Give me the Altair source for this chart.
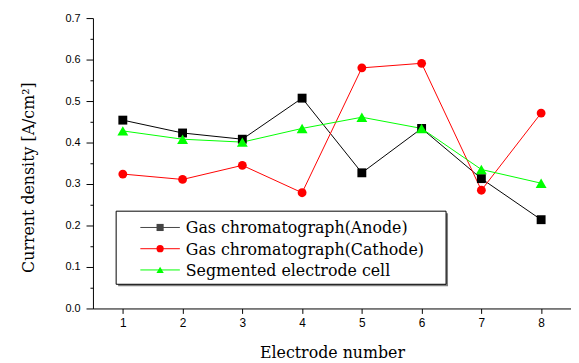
import altair as alt
import pandas as pd

# ---- data ----
electrodes = [1, 2, 3, 4, 5, 6, 7, 8]
anode = [0.454, 0.423, 0.408, 0.507, 0.327, 0.434, 0.313, 0.214]
cathode = [0.324, 0.311, 0.345, 0.279, 0.580, 0.591, 0.285, 0.471]
segmented = [0.428, 0.408, 0.401, 0.434, 0.461, 0.434, 0.335, 0.302]

series_names = ["Gas chromatograph(Anode)", "Gas chromatograph(Cathode)", "Segmented electrode cell"]
series_colors = ["#000000", "#ff0000", "#00ff00"]
legend_line_colors = ["#444444", "#ff0000", "#00ff00"]
marker_shapes = ["square", "circle", "triangle-up"]
marker_sizes = [81, 80, 121]
legend_marker_sizes = [52, 55, 80]
y_tick_values = [0.0, 0.05, 0.1, 0.15, 0.2, 0.25, 0.3, 0.35, 0.4, 0.45, 0.5, 0.55, 0.6, 0.65, 0.7]

rows = []
for name, vals in zip(series_names, [anode, cathode, segmented]):
    for e, v in zip(electrodes, vals):
        rows.append({"electrode": e, "value": v, "series": name})
df = pd.DataFrame(rows)
legend_df = pd.DataFrame({"series": series_names})

SERIF = "DejaVu Serif"
SANS = "Liberation Sans"

is_major = "abs(datum.value*10 - round(datum.value*10)) < 0.001"

x_enc = alt.X(
    "electrode:Q",
    scale=alt.Scale(domain=[0.5, 8.5], nice=False, zero=False),
    axis=alt.Axis(
        values=electrodes, format="d", title="Electrode number",
        tickSize=5, labelPadding=4, labelFontSize=12,
        titleY=50, titleBaseline="alphabetic",
    ),
)
y_enc = alt.Y(
    "value:Q",
    scale=alt.Scale(domain=[0, 0.7], nice=False, zero=True),
    axis=alt.Axis(
        values=y_tick_values,
        labelExpr=f"{is_major} ? format(datum.value, '.1f') : ''",
        tickSize={"condition": {"test": is_major, "value": 7}, "value": 3},
        labelPadding=6, labelFontSize=11,
        title="Current density [A/cm²]",
        titleX=-60, titleY=161, titleAngle=270, titleBaseline="alphabetic", titleAlign="center",
    ),
)

data_layers = []
for name, color in zip(series_names, series_colors):
    data_layers.append(
        alt.Chart(df)
        .transform_filter(alt.datum.series == name)
        .mark_line(strokeWidth=1, color=color)
        .encode(x=x_enc, y=y_enc)
    )
for name, color, shape, size in zip(series_names, series_colors, marker_shapes, marker_sizes):
    data_layers.append(
        alt.Chart(df)
        .transform_filter(alt.datum.series == name)
        .mark_point(filled=True, opacity=1, shape=shape, size=size, color=color)
        .encode(x=x_enc, y=y_enc)
    )
main = alt.layer(*data_layers)

# ---- legend (box with shadow, line+marker samples, serif labels) ----
leg_y = alt.Y(
    "series:N",
    scale=alt.Scale(type="point", domain=series_names, range=[212, 255], padding=0),
    axis=None,
)
leg_color = alt.Color("series:N", scale=alt.Scale(domain=series_names, range=series_colors), legend=None)
leg_line_color = alt.Color("series:N", scale=alt.Scale(domain=series_names, range=legend_line_colors), legend=None)
leg_shape = alt.Shape("series:N", scale=alt.Scale(domain=series_names, range=marker_shapes), legend=None)
leg_size = alt.Size("series:N", scale=alt.Scale(domain=series_names, range=legend_marker_sizes), legend=None)

one_row = alt.datum.series == series_names[0]
shadow = alt.Chart(legend_df).transform_filter(one_row).mark_rect(fill="#808080").encode(
    x=alt.value(25.5), x2=alt.value(359.5), y=alt.value(197.5), y2=alt.value(271.5)
)
box = alt.Chart(legend_df).transform_filter(one_row).mark_rect(fill="#ffffff", stroke="#000000", strokeWidth=1).encode(
    x=alt.value(23.5), x2=alt.value(357.5), y=alt.value(195.5), y2=alt.value(269.5)
)
leg_lines = alt.Chart(legend_df).mark_rule(strokeWidth=1).encode(
    x=alt.value(48), x2=alt.value(88), y=leg_y, color=leg_line_color
)
leg_marks = alt.Chart(legend_df).mark_point(filled=True, opacity=1).encode(
    x=alt.value(68), y=leg_y, color=leg_color, shape=leg_shape, size=leg_size
)
leg_text = alt.Chart(legend_df).mark_text(
    align="left", baseline="middle", font=SERIF, fontSize=16, color="#000000", dy=1
).encode(x=alt.value(94), y=leg_y, text="series:N")

legend = alt.layer(shadow, box, leg_lines, leg_marks, leg_text)

chart = (
    alt.layer(main, legend)
    .resolve_scale(y="independent", color="independent", shape="independent", size="independent")
    .properties(
        width=484, height=294,
        padding={"left": 86, "top": 8, "right": 0, "bottom": 53},
        autosize=alt.AutoSizeParams(type="none"),
        background="#ffffff",
    )
    .configure_view(stroke=None)
    .configure_axis(
        grid=False, domainColor="#000000", domainWidth=1, tickColor="#000000", tickWidth=1,
        labelColor="#000000", labelFont=SANS, titleFont=SERIF, titleFontSize=16,
        titleFontWeight="normal", titleColor="#000000",
    )
)

chart.save("out.html", embed_options={"renderer": "svg", "actions": False})
